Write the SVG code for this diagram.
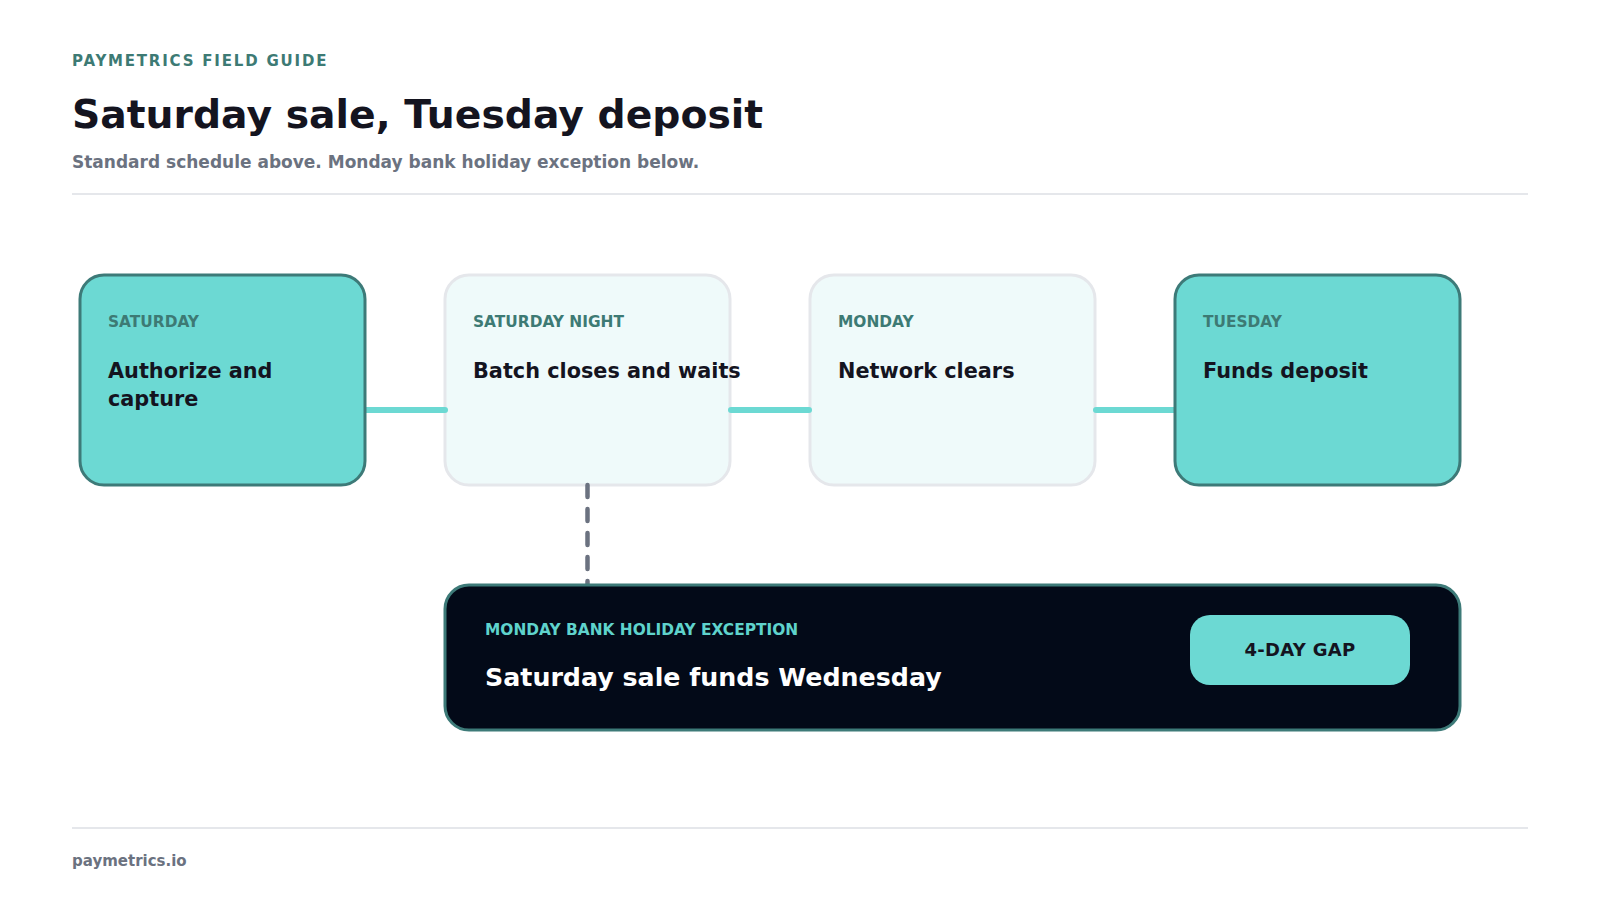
<svg xmlns="http://www.w3.org/2000/svg" width="1600" height="900" viewBox="0 0 1600 900">
<style>
text{font-family:"DejaVu Sans","Liberation Sans",sans-serif;font-weight:bold}
.eyebrow{font-size:15px;fill:#3d7a74;letter-spacing:1.8px}
.title{font-size:39.3px;fill:#14141f}
.sub{font-size:17px;fill:#6b7280}
.rule{stroke:#e5e7eb;stroke-width:2}
.hot{fill:#6cd9d3;stroke:#3d7a78;stroke-width:3}
.cool{fill:#effafa;stroke:#e5e7eb;stroke-width:3}
.lbl{font-size:15.4px;fill:#3d7a74}
.main{font-size:20.8px;fill:#14141f}
.conn{stroke:#6cd9d3;stroke-width:6;stroke-linecap:round;fill:none}
.dash{stroke:#6b7280;stroke-width:4.5;stroke-linecap:round;stroke-dasharray:12 12;fill:none}
</style>
<rect width="1600" height="900" fill="#ffffff"/>
<g id="header">
<text class="eyebrow" x="72" y="66">PAYMETRICS FIELD GUIDE</text>
<text class="title" x="72" y="128">Saturday sale, Tuesday deposit</text>
<text class="sub" x="72" y="168">Standard schedule above. Monday bank holiday exception below.</text>
<line class="rule" x1="72" y1="194" x2="1528" y2="194"/>
</g>
<g id="saturday-night">
<rect class="cool" x="445" y="275" width="285" height="210" rx="24"/>
<text class="lbl" x="473" y="327">SATURDAY NIGHT</text>
<text class="main" x="473" y="378">Batch closes and waits</text>
</g>
<g id="monday">
<rect class="cool" x="810" y="275" width="285" height="210" rx="24"/>
<text class="lbl" x="838" y="327">MONDAY</text>
<text class="main" x="838" y="378">Network clears</text>
</g>
<g id="connectors">
<line class="conn" x1="365" y1="410" x2="445" y2="410"/>
<line class="conn" x1="731" y1="410" x2="809" y2="410"/>
<line class="conn" x1="1096" y1="410" x2="1175" y2="410"/>
<line class="dash" x1="587.5" y1="485" x2="587.5" y2="585"/>
</g>
<g id="saturday">
<rect class="hot" x="80" y="275" width="285" height="210" rx="24"/>
<text class="lbl" x="108" y="327">SATURDAY</text>
<text class="main" x="108" y="378">Authorize and</text>
<text class="main" x="108" y="406">capture</text>
</g>
<g id="tuesday">
<rect class="hot" x="1175" y="275" width="285" height="210" rx="24"/>
<text class="lbl" x="1203" y="327">TUESDAY</text>
<text class="main" x="1203" y="378">Funds deposit</text>
</g>
<g id="exception">
<rect x="445" y="585" width="1015" height="145" rx="24" fill="#030a18" stroke="#3d7a78" stroke-width="3"/>
<text x="485" y="635" font-size="15.4" fill="#5fd3cc">MONDAY BANK HOLIDAY EXCEPTION</text>
<text x="485" y="686" font-size="25.3" fill="#ffffff">Saturday sale funds Wednesday</text>
</g>
<g id="gap-badge">
<rect x="1190" y="615" width="220" height="70" rx="20" fill="#6cd9d3"/>
<text x="1300" y="656" font-size="18" fill="#14141f" text-anchor="middle" letter-spacing="0.3">4-DAY GAP</text>
</g>
<g id="footer">
<line class="rule" x1="72" y1="828" x2="1528" y2="828"/>
<text x="72" y="866" font-size="15" fill="#6b7280">paymetrics.io</text>
</g>
</svg>
